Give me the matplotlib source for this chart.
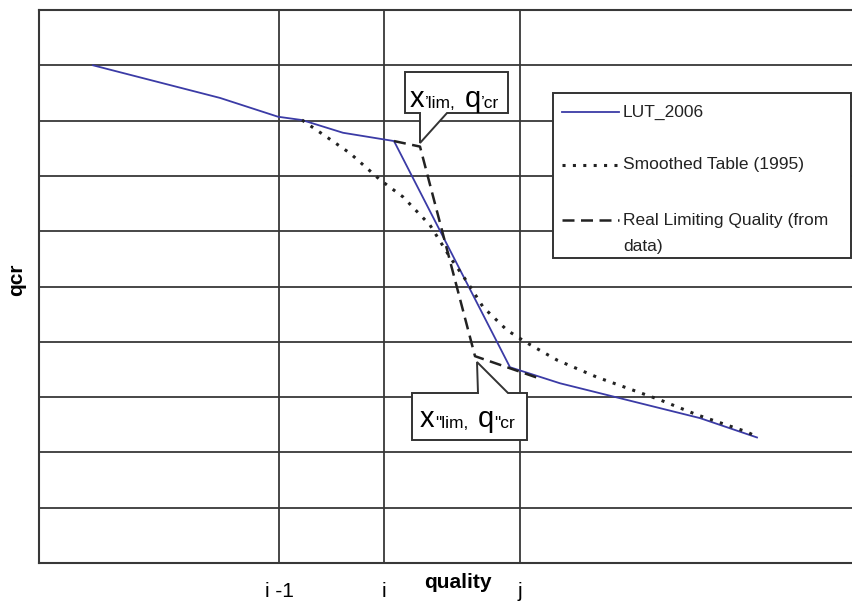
import numpy as np
import matplotlib
matplotlib.use("Agg")
import matplotlib.pyplot as plt
from matplotlib.patches import Polygon
from matplotlib.lines import Line2D
import matplotlib.transforms as mtransforms

plt.rcParams['font.family'] = ['Liberation Sans', 'DejaVu Sans']

# data (x in quality units, y in qcr units)
lut_x = [0.54, 1.81, 2.39, 2.63, 3.04, 3.55, 4.71, 5.21, 5.81, 6.61, 7.18]
lut_y = [9.00, 8.41, 8.07, 8.01, 7.78, 7.63, 3.54, 3.25, 2.98, 2.62, 2.27]

smooth_x = [2.63, 2.88, 3.11, 3.41, 3.64, 3.91, 4.11, 4.29, 4.44, 4.68, 4.88, 5.18, 5.58, 6.21, 6.58, 7.08, 7.18]
smooth_y = [8.01, 7.70, 7.41, 6.93, 6.62, 6.11, 5.53, 5.06, 4.63, 4.21, 3.98, 3.67, 3.36, 2.95, 2.68, 2.37, 2.28]

real_x = [3.55, 3.81, 4.36, 5.00]
real_y = [7.63, 7.53, 3.74, 3.34]

tick_pos = [2.40, 3.45, 4.81]
tick_labels = ["i -1", "i", "j"]

blue = '#3b3ba6'
gridc = '#383838'

fig = plt.figure(figsize=(8.53, 6.04), dpi=100)
# pixel transform (origin top-left of the image)
px = mtransforms.Affine2D().scale(1/100, -1/100).translate(0, 6.04) + fig.dpi_scale_trans

ax = fig.add_axes([39/853, 41/604, (853-39)/853, 553/604])
ax.set_xlim(0, 8.14)
ax.set_ylim(0, 10)
ax.set_yticks(range(11))
ax.set_yticklabels([])
ax.set_xticks(tick_pos)
ax.set_xticklabels(tick_labels, fontsize=15)
ax.tick_params(length=0, pad=14)
ax.grid(True, color=gridc, lw=1.3)
ax.set_axisbelow(True)
for s in ['left', 'bottom', 'top']:
    ax.spines[s].set_color(gridc)
    ax.spines[s].set_linewidth(1.5)
ax.spines['right'].set_visible(False)

ax.plot(lut_x, lut_y, color=blue, lw=1.3, zorder=3)
ax.plot(smooth_x, smooth_y, color='#222222', lw=2.2, ls=(0, (1, 2.4)), zorder=3)
ax.plot(real_x, real_y, color='#222222', lw=1.8, ls=(0, (4.8, 2.6)), zorder=3)

# axis titles
fig.text(458, 582, "quality", transform=px, fontsize=15, fontweight='bold',
         ha='center', va='center')
fig.text(17, 280, "qcr", transform=px, fontsize=15, fontweight='bold',
         rotation=90, ha='center', va='center')

# callouts
call1 = [(405, 72), (508, 72), (508, 113), (447, 113), (420, 143), (420, 113), (405, 113)]
call2 = [(412, 393), (478, 393), (477, 362), (508, 393), (527, 393), (527, 440), (412, 440)]
for pts in (call1, call2):
    ax.add_patch(Polygon(pts, closed=True, transform=px, facecolor='white',
                         edgecolor='#333333', lw=1.4, zorder=5, clip_on=False))


def callout_text(x0, y0, prime):
    t = fig.text(x0, y0, "x", transform=px, fontsize=21, va='baseline', zorder=6)
    t = ax.annotate(prime + "lim,", xy=(1, 0), xycoords=t, va='bottom', fontsize=12.5,
                    xytext=(0, 1.5), textcoords='offset points', zorder=6)
    t = ax.annotate("q", xy=(1, 0), xycoords=t, va='bottom', fontsize=21,
                    xytext=(7, -1.5), textcoords='offset points', zorder=6)
    ax.annotate(prime + "cr", xy=(1, 0), xycoords=t, va='bottom', fontsize=12.5,
                xytext=(0, 1.5), textcoords='offset points', zorder=6)


callout_text(410, 107, "\u2019")
callout_text(420, 427, "\"")

# legend drawn by hand
ax.add_patch(Polygon([(553, 93), (851, 93), (851, 258), (553, 258)], closed=True,
                     transform=px, facecolor='white', edgecolor='#333333', lw=1.4,
                     zorder=5, clip_on=False))
leg_items = [
    ("LUT_2006", dict(color=blue, lw=1.3), 112),
    ("Smoothed Table (1995)", dict(color='#222222', lw=2.2, ls=(0, (1, 2.4))), 165),
    ("Real Limiting Quality (from\ndata)", dict(color='#222222', lw=1.8, ls=(0, (4.8, 2.6))), 220),
]
for label, style, yy in leg_items:
    ax.add_line(Line2D([562, 619], [yy, yy], transform=px, zorder=6, clip_on=False, **style))
    fig.text(623, yy, label.split("\n")[0], transform=px, fontsize=12.5,
             va='center', color='#222222', zorder=7)
    if "\n" in label:
        fig.text(623, yy + 27, label.split("\n")[1], transform=px, fontsize=12.5,
                 va='center', color='#222222', zorder=7)

fig.savefig("out.png", dpi=100)
